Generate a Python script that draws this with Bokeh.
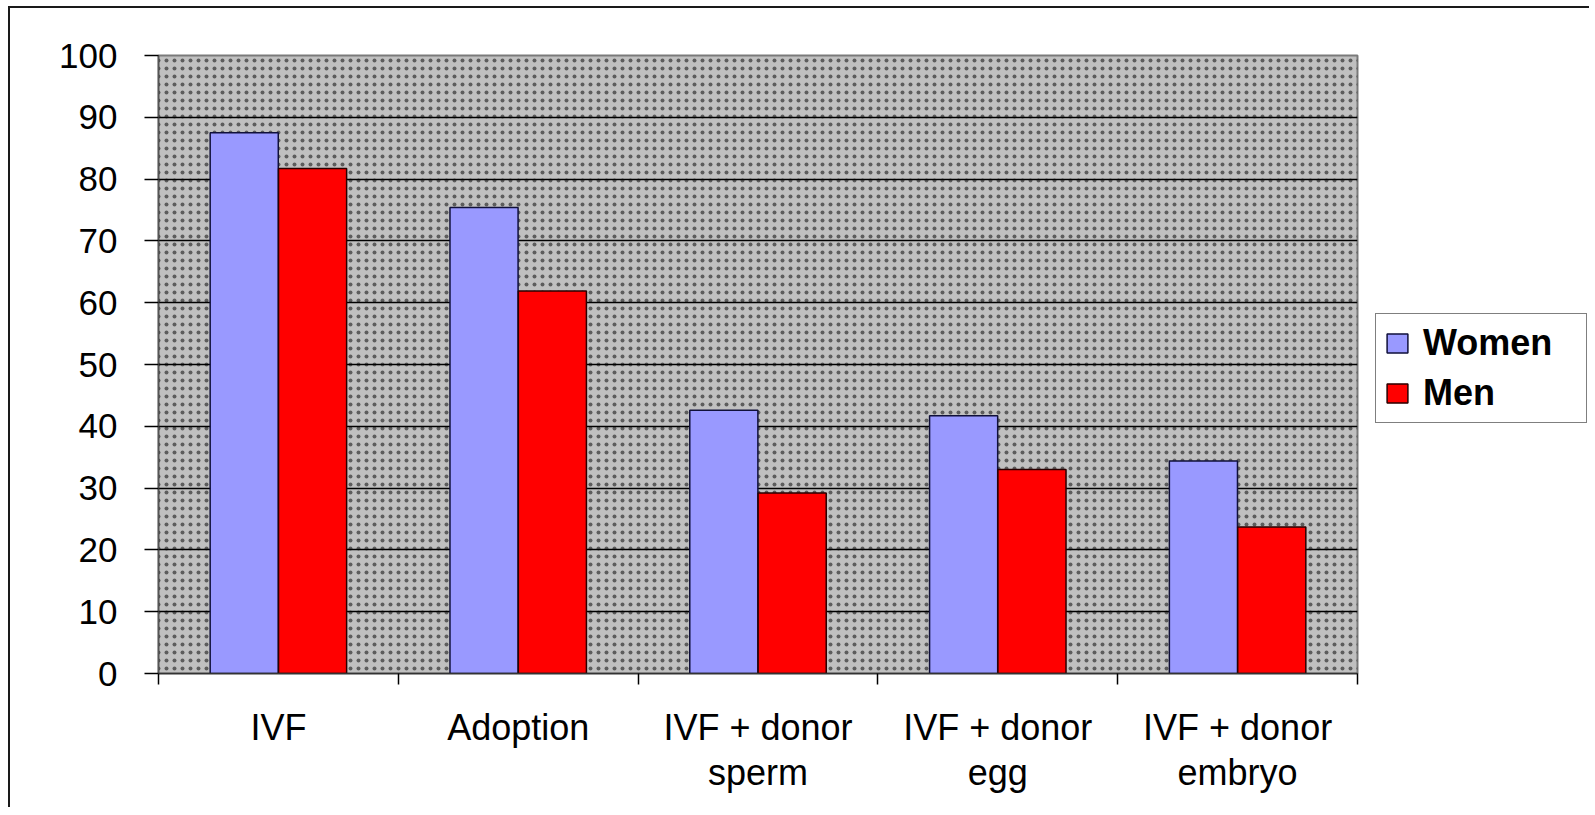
from bokeh.plotting import figure
from bokeh.models import (ColumnDataSource, Range1d, FixedTicker, BoxAnnotation,
                          Legend, LegendItem)
from bokeh.layouts import row
from bokeh.transform import dodge
from bokeh.embed import file_html
from bokeh.resources import INLINE

categories = ["IVF", "Adoption", "IVF + donor\nsperm", "IVF + donor\negg", "IVF + donor\nembryo"]
women = [87.5, 75.4, 42.6, 41.7, 34.4]
men = [81.7, 61.9, 29.2, 33.0, 23.7]
y_ticks = [0, 10, 20, 30, 40, 50, 60, 70, 80, 90, 100]

FONT = "Liberation Sans"
pos = [i + 0.5 for i in range(len(categories))]
source = ColumnDataSource(data=dict(x=pos, women=women, men=men, cat=categories))

p = figure(width=1349, height=799, output_backend="svg", toolbar_location=None,
           x_range=Range1d(0, len(categories)), y_range=Range1d(0, 100),
           min_border_left=148, min_border_top=47, min_border_right=2, min_border_bottom=134)

p.background_fill_color = "#c0c0c0"
p.border_fill_color = "white"
p.outline_line_color = "#7a7a7a"
p.outline_line_width = 2

bg = BoxAnnotation(fill_alpha=0, line_alpha=0, hatch_pattern="dot",
                   hatch_scale=8, hatch_color="#1a1a1a", hatch_alpha=0.6,
                   level="image")
p.add_layout(bg)

bar_w = dict(fill_color="#9999ff", line_color="#10103a", line_width=1.5)
bar_m = dict(fill_color="#ff0000", line_color="#2a0000", line_width=1.5)

p.vbar(x=dodge("x", -0.1425, range=p.x_range), top="women", width=0.284, source=source, **bar_w)
p.vbar(x=dodge("x", 0.1425, range=p.x_range), top="men", width=0.284, source=source, **bar_m)

# grids
p.xgrid.visible = False
p.ygrid.grid_line_color = "black"
p.ygrid.grid_line_width = 1.5
p.ygrid.ticker = FixedTicker(ticks=y_ticks)

# y axis
p.yaxis.ticker = FixedTicker(ticks=y_ticks)
p.yaxis.axis_line_color = "#555555"
p.yaxis.axis_line_width = 1.5
p.yaxis.major_tick_line_color = "black"
p.yaxis.major_tick_line_width = 1.5
p.yaxis.major_tick_out = 14
p.yaxis.major_tick_in = 0
p.yaxis.minor_tick_line_color = None
p.yaxis.major_label_standoff = 27
p.yaxis.major_label_text_font = FONT
p.yaxis.major_label_text_font_size = "35px"
p.yaxis.major_label_text_color = "black"

# x axis
boundaries = list(range(len(categories) + 1))
p.xaxis.ticker = FixedTicker(ticks=pos, minor_ticks=boundaries)
p.xaxis.major_label_overrides = {x: c for x, c in zip(pos, categories)}
p.xaxis.major_tick_line_color = None
p.xaxis.minor_tick_line_color = "black"
p.xaxis.minor_tick_line_width = 1.5
p.xaxis.minor_tick_out = 11
p.xaxis.minor_tick_in = 0
p.xaxis.axis_line_color = "#333333"
p.xaxis.axis_line_width = 1.5
p.xaxis.major_label_standoff = 22
p.xaxis.major_label_text_font = FONT
p.xaxis.major_label_text_font_size = "36px"
p.xaxis.major_label_text_color = "black"
p.xaxis.major_label_text_line_height = 1.12

# legend panel to the right of the chart (proxy renderers with no drawable data)
lf = figure(width=230, height=799, output_backend="svg", toolbar_location=None,
            x_range=Range1d(0, 1), y_range=Range1d(0, 100),
            min_border_left=0, min_border_right=0, min_border_top=0, min_border_bottom=0)
lf.axis.visible = False
lf.grid.visible = False
lf.outline_line_color = None
lf.background_fill_color = "white"
lf.border_fill_color = "white"
proxy = ColumnDataSource(data=dict(x=[float("nan")], women=[float("nan")], men=[float("nan")]))
lw = lf.vbar(x="x", top="women", width=0.284, source=proxy, **bar_w)
lm = lf.vbar(x="x", top="men", width=0.284, source=proxy, **bar_m)

legend = Legend(items=[LegendItem(label="Women", renderers=[lw]),
                       LegendItem(label="Men", renderers=[lm])],
                location=(16, 250))
legend.border_line_color = "black"
legend.border_line_width = 1.5
legend.background_fill_color = "white"
legend.background_fill_alpha = 1
legend.label_text_font = FONT
legend.label_text_font_style = "bold"
legend.label_text_font_size = "36px"
legend.label_text_color = "black"
legend.glyph_width = 26
legend.glyph_height = 24
legend.label_height = 36
legend.label_width = 155
legend.label_standoff = 13
legend.spacing = 8
legend.padding = 8
legend.margin = 0
lf.add_layout(legend)

layout = row(p, lf, spacing=0)
layout.styles = {"border-left": "2px solid #1a1a1a", "border-top": "2px solid #1a1a1a",
                 "margin-left": "8px", "margin-top": "6px"}

open("out.html", "w").write(file_html(layout, INLINE))
